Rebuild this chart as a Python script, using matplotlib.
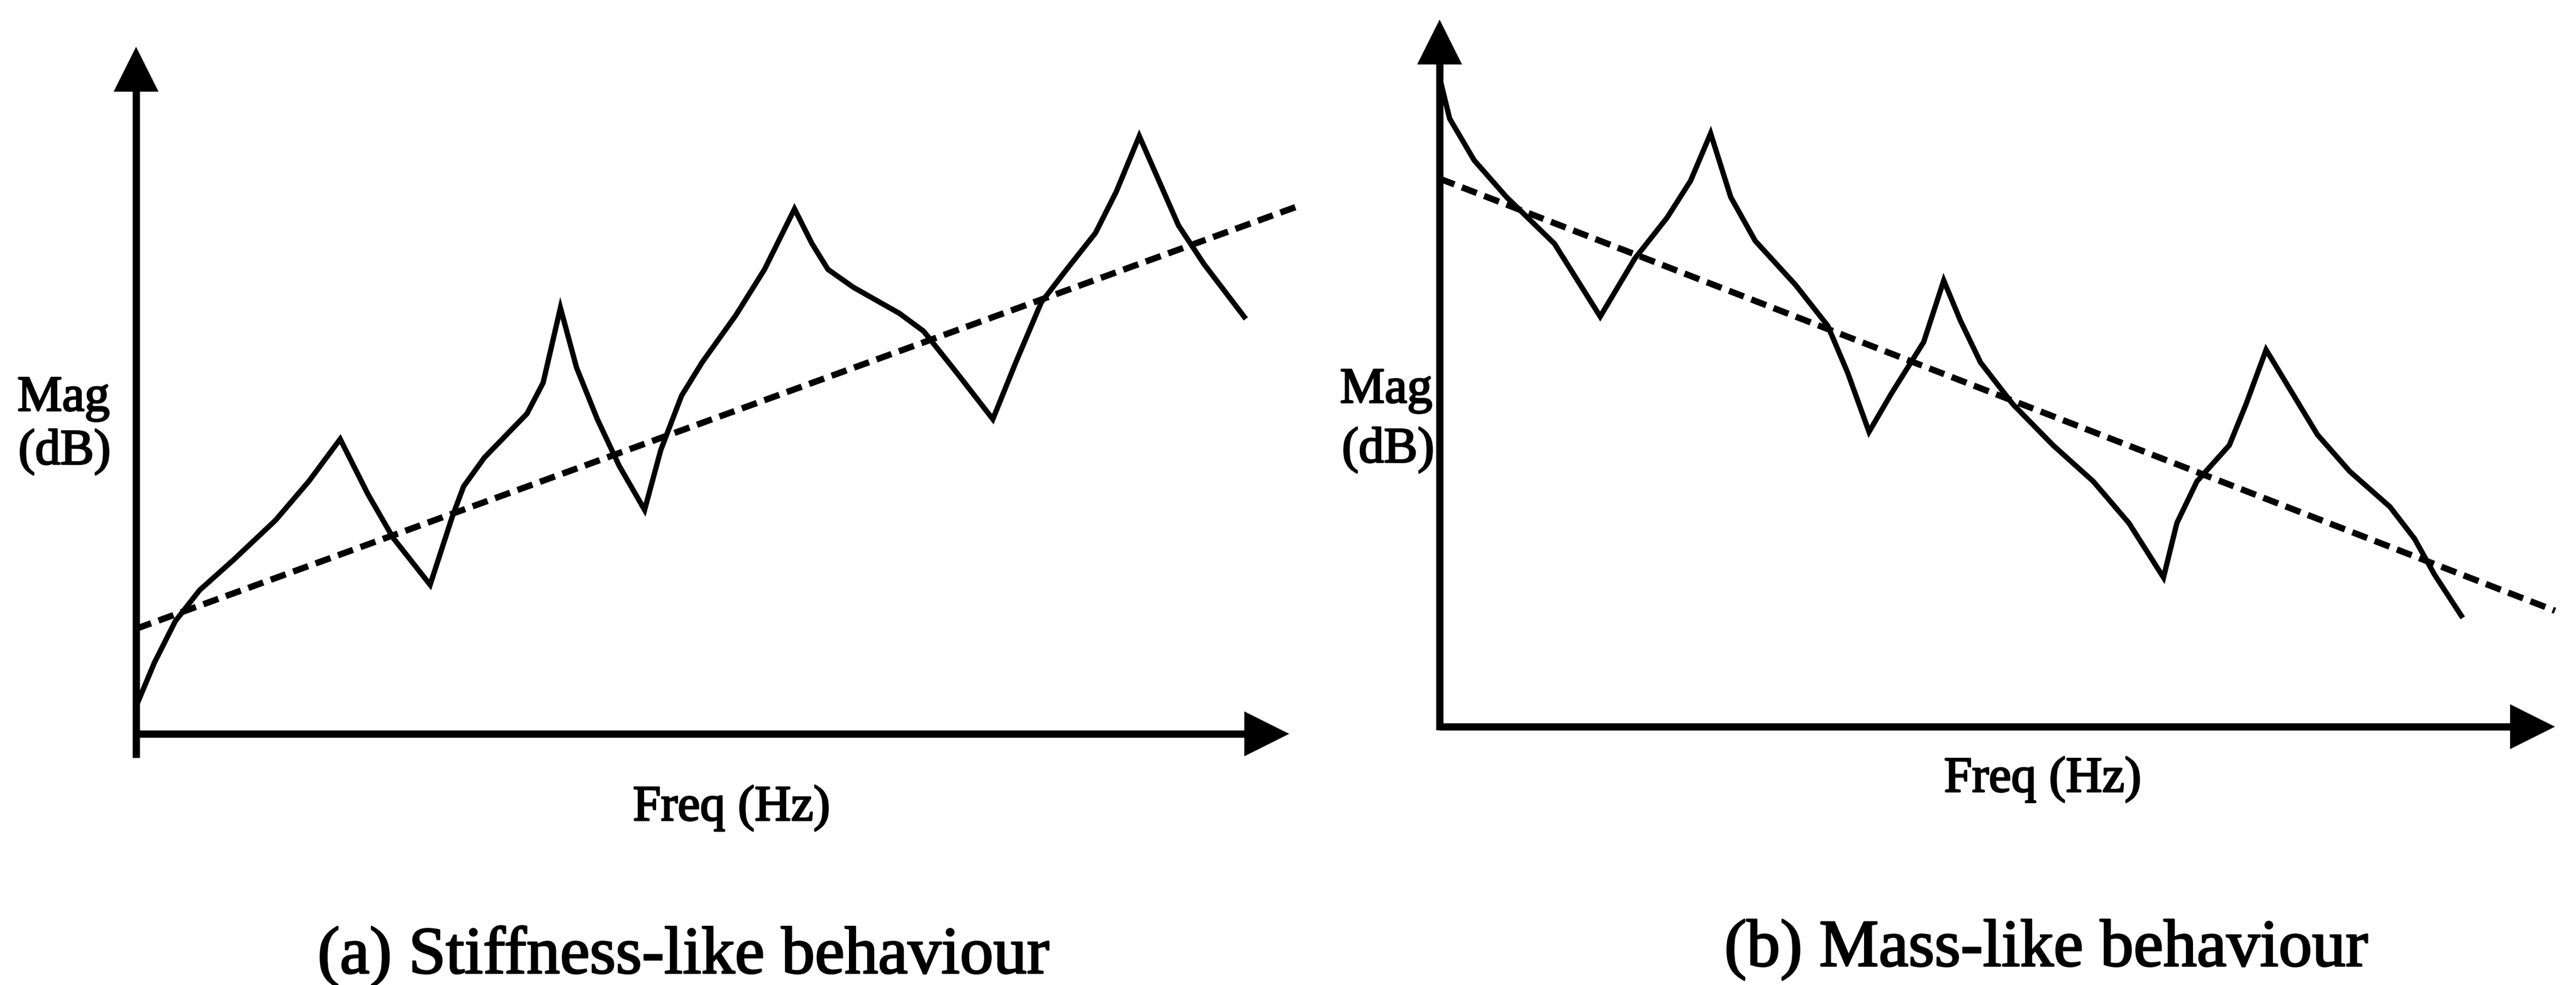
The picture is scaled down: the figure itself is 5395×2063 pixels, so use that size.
import matplotlib
matplotlib.use("Agg")
import matplotlib.pyplot as plt
import matplotlib.patheffects as pe

plt.rcParams['font.family'] = ['Liberation Serif', 'DejaVu Serif']
plt.rcParams['lines.scale_dashes'] = False

# (a) stiffness-like: freq / magnitude in arbitrary 0-100 units
stiff_freq = [0, 1.6, 3.4, 5.5, 8.5, 12.1, 15.0, 17.7, 20.1, 22.3, 25.5, 27.4, 28.4, 30.2,
              33.9, 35.3, 36.8, 38.2, 40.0, 41.9, 44.1, 45.5, 47.3, 49.1, 52.0, 54.5, 57.1,
              58.6, 60.0, 62.2, 66.2, 68.3, 71.2, 74.3, 76.3, 78.5, 80.7, 83.2, 85.0, 87.0,
              88.7, 90.4, 92.6, 96.1]
stiff_mag = [4.0, 10.4, 16.4, 20.9, 25.4, 31.1, 36.8, 42.9, 34.9, 28.5, 21.7, 31.5, 36.0, 40.2,
             46.6, 51.1, 62.0, 53.3, 45.8, 39.0, 32.6, 41.3, 49.2, 54.1, 60.9, 67.6, 76.4,
             71.4, 67.6, 65.0, 61.2, 58.6, 52.5, 45.8, 54.1, 62.8, 67.6, 72.9, 78.9, 87.0,
             80.5, 74.0, 68.4, 60.7]
stiff_trend_freq = [0, 100.6]
stiff_trend_mag = [15.3, 76.7]

# (b) mass-like
mass_freq = [0, 0.9, 3.1, 6.0, 10.3, 14.4, 17.5, 20.4, 22.5, 24.3, 26.1, 28.3, 31.9, 34.8,
             36.6, 38.5, 40.5, 43.4, 45.2, 46.7, 48.5, 51.4, 55.0, 58.6, 61.8, 64.9, 66.1,
             67.9, 70.8, 72.3, 74.1, 75.9, 78.7, 81.6, 85.2, 87.4, 89.2, 91.6]
mass_mag = [91.8, 86.0, 80.1, 74.9, 68.3, 58.0, 66.2, 72.0, 77.2, 83.9, 74.9, 68.7, 62.5, 56.7,
            50.0, 41.7, 47.1, 54.4, 63.1, 57.4, 51.5, 45.6, 39.8, 34.7, 28.8, 21.1, 28.8,
            34.7, 39.8, 45.6, 53.3, 48.6, 41.3, 36.1, 31.1, 26.6, 21.5, 15.7]
mass_trend_freq = [0, 100]
mass_trend_mag = [77.5, 16.4]

W, H = 5395, 2063
fig = plt.figure(figsize=(W / 100, H / 100), dpi=100)
fig.patch.set_facecolor('white')


def panel(rect, freq, mag, tfreq, tmag, ybelow):
    ax = fig.add_axes(rect)
    ax.set_xlim(0, 100)
    ax.set_ylim(0, 100)
    ax.axis('off')
    # axis lines with arrow heads
    bbox = ax.get_position()
    wpx = bbox.width * W
    hpx = bbox.height * H
    ax.plot([0, 0], [ybelow, 97], color='black', lw=11, clip_on=False, solid_capstyle='butt')
    ax.plot([0, 98], [0, 0], color='black', lw=11, clip_on=False, solid_capstyle='butt')
    ax.plot([0], [100 - 47 / hpx * 100], marker='^', ms=68, color='black', mew=0, clip_on=False)
    ax.plot([100 - 47 / wpx * 100], [0], marker='>', ms=68, color='black', mew=0, clip_on=False)
    ax.plot(freq, mag, color='black', lw=8, clip_on=False, solid_joinstyle='miter')
    ax.plot(tfreq, tmag, color='black', lw=9.5, clip_on=False, dashes=(24, 12),
            dash_capstyle='butt')
    return ax


panel([285 / W, 1 - 1537 / H, 2415 / W, 1439 / H],
      stiff_freq, stiff_mag, stiff_trend_freq, stiff_trend_mag, -3.5)
panel([3015 / W, 1 - 1522 / H, 2336 / W, 1481 / H],
      mass_freq, mass_mag, mass_trend_freq, mass_trend_mag, -0.5)

heavy = [pe.withStroke(linewidth=2.5, foreground='black')]


def label(x, y, s, size):
    fig.text(x / W, 1 - y / H, s, ha='center', va='baseline', fontsize=size, color='black',
             path_effects=heavy)


label(133, 860, 'Mag', 76)
label(135, 972, '(dB)', 76)
label(2903, 843, 'Mag', 76)
label(2907, 968, '(dB)', 76)
label(1532, 1718, 'Freq (Hz)', 76)
label(4278, 1658, 'Freq (Hz)', 76)
label(1431, 2038, '(a) Stiffness-like behaviour', 101)
label(4285, 2023, '(b) Mass-like behaviour', 101)

fig.savefig('out.png', dpi=100, facecolor='white')
